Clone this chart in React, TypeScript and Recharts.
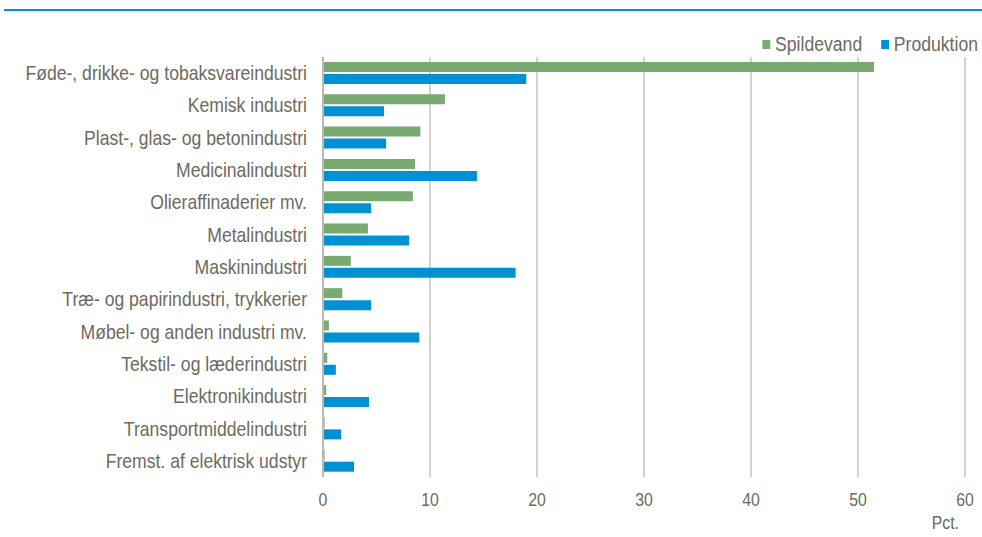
import React from 'react';
import { BarChart, Bar, XAxis, YAxis, CartesianGrid, Legend } from 'recharts';

const categories = [
  'Føde-, drikke- og tobaksvareindustri',
  'Kemisk industri',
  'Plast-, glas- og betonindustri',
  'Medicinalindustri',
  'Olieraffinaderier mv.',
  'Metalindustri',
  'Maskinindustri',
  'Træ- og papirindustri, trykkerier',
  'Møbel- og anden industri mv.',
  'Tekstil- og læderindustri',
  'Elektronikindustri',
  'Transportmiddelindustri',
  'Fremst. af elektrisk udstyr',
];
const spildevand = [51.5, 11.4, 9.1, 8.6, 8.4, 4.2, 2.6, 1.8, 0.55, 0.4, 0.3, 0.15, 0.15];
const produktion = [19.0, 5.7, 5.9, 14.4, 4.5, 8.05, 18.0, 4.5, 9.0, 1.2, 4.3, 1.7, 2.9];
const xTicks = [0, 10, 20, 30, 40, 50, 60];
const seriesNames = ['Spildevand', 'Produktion'];

const data = categories.map((c, i) => ({ name: c, Spildevand: spildevand[i], Produktion: produktion[i] }));

const FONT = '"Liberation Sans", Arial, sans-serif';
const TEXT = '#6d6a5e';
const GREEN = '#78aa72';
const BLUE = '#0090d4';
const SX = 0.88;

const CatTick = (props: any) => {
  const { x, y, payload } = props;
  return (
    <text
      transform={`translate(${x},${y}) scale(${SX},1)`}
      x={0}
      y={0}
      dy={7}
      textAnchor="end"
      fill={TEXT}
      fontSize={20}
      fontFamily={FONT}
    >
      {payload.value}
    </text>
  );
};

const NumTick = (props: any) => {
  const { x, y, payload } = props;
  return (
    <text
      transform={`translate(${x},${y}) scale(${SX},1)`}
      x={0}
      y={0}
      dy={13}
      textAnchor="middle"
      fill={TEXT}
      fontSize={18}
      fontFamily={FONT}
    >
      {payload.value}
    </text>
  );
};

const PctLabel = (props: any) => {
  const vb = props.viewBox || {};
  const x = vb.x + vb.width;
  const y = vb.y + vb.height;
  return (
    <text
      transform={`translate(${x - 6},${y - 8}) scale(${SX},1)`}
      x={0}
      y={0}
      textAnchor="end"
      fill={TEXT}
      fontSize={18}
      fontFamily={FONT}
    >
      Pct.
    </text>
  );
};

const LegendContent = () => {
  const colors: Record<string, string> = { Spildevand: GREEN, Produktion: BLUE };
  return (
    <div style={{ display: 'flex', justifyContent: 'flex-end', fontFamily: FONT, fontSize: 20, color: TEXT, transform: `scaleX(${SX})`, transformOrigin: 'right center', whiteSpace: 'nowrap', height: 24, alignItems: 'center' }}>
      {seriesNames.map((n) => (
        <div key={n} style={{ display: 'flex', alignItems: 'center', marginLeft: 22 }}>
          <span style={{ display: 'inline-block', width: 9, height: 9, background: colors[n], marginRight: 5 }} />
          <span>{n}</span>
        </div>
      ))}
    </div>
  );
};

export default function App() {
  return (
    <div style={{ position: 'absolute', left: 0, top: 0, width: 982, height: 537, background: '#fff' }}>
      <div style={{ position: 'absolute', left: 4, top: 9, width: 978, height: 2, background: BLUE }} />
      <BarChart
        width={982}
        height={537}
        data={data}
        layout="vertical"
        margin={{ top: 33, right: 17, bottom: 0, left: 0 }}
        barCategoryGap="16%"
        barGap={2}
      >
        <CartesianGrid horizontal={false} stroke="#c9c5bc" strokeWidth={1.5} />
        <XAxis
          type="number"
          domain={[0, 60]}
          ticks={xTicks}
          axisLine={false}
          tickLine={false}
          tickMargin={10}
          height={60}
          tick={<NumTick />}
          label={<PctLabel />}
        />
        <YAxis
          type="category"
          dataKey="name"
          width={323}
          axisLine={{ stroke: '#bdb9ae', strokeWidth: 2 }}
          tickLine={false}
          tickMargin={10}
          tick={<CatTick />}
          interval={0}
        />
        <Legend
          verticalAlign="top"
          align="right"
          content={<LegendContent />}
          wrapperStyle={{ top: 32, right: 4, left: 'auto', width: 400, height: 24 }}
        />
        <Bar dataKey="Spildevand" fill={GREEN} barSize={10} isAnimationActive={false} />
        <Bar dataKey="Produktion" fill={BLUE} barSize={10} isAnimationActive={false} />
      </BarChart>
    </div>
  );
}
